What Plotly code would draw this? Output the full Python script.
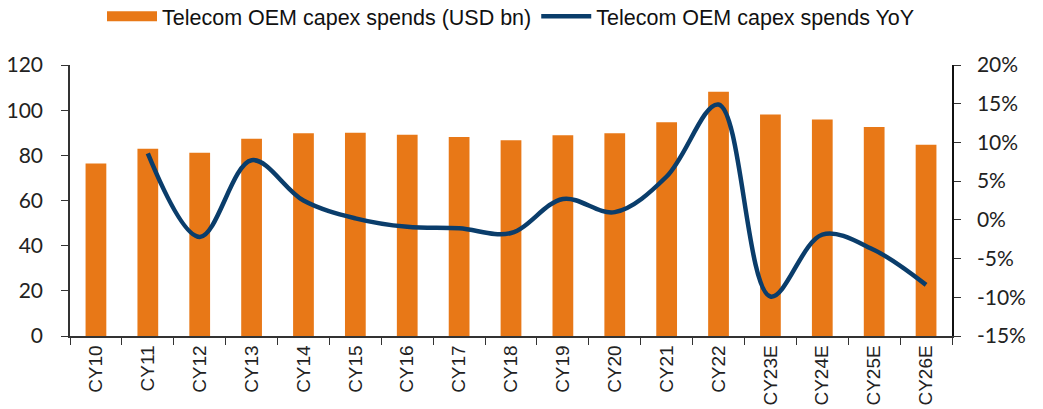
import plotly.graph_objects as go

categories = ["CY10", "CY11", "CY12", "CY13", "CY14", "CY15", "CY16", "CY17", "CY18",
              "CY19", "CY20", "CY21", "CY22", "CY23E", "CY24E", "CY25E", "CY26E"]
capex_usd_bn = [76.4, 82.9, 81.1, 87.3, 89.8, 90.0, 89.1, 88.1, 86.7,
                88.9, 89.8, 94.6, 108.2, 98.1, 95.9, 92.5, 84.7]
capex_yoy_pct = [None, 8.6, -2.2, 7.7, 2.5, 0.2, -0.9, -1.1, -1.7,
                 2.7, 1.0, 5.6, 14.9, -9.9, -1.9, -3.9, -8.4]

left_ticks = [0, 20, 40, 60, 80, 100, 120]
right_ticks = [-15, -10, -5, 0, 5, 10, 15, 20]
right_tick_labels = ["-15%", "-10%", "-5%", "0%", "5%", "10%", "15%", "20%"]

ORANGE = "#E87817"
NAVY = "#0A3D6B"
TICK_FONT = dict(family="Lato, sans-serif", size=21, color="#222222")
BAR_NAME = "Telecom OEM capex spends (USD bn)"
LINE_NAME = "Telecom OEM capex spends YoY"

fig = go.Figure()
fig.add_trace(go.Bar(
    x=categories, y=capex_usd_bn, name=BAR_NAME, showlegend=False,
    marker=dict(color=ORANGE, line=dict(width=0)), yaxis="y",
))
# legend entry with a wide rectangular swatch for the bars
fig.add_trace(go.Scatter(
    x=[None], y=[None], name=BAR_NAME, mode="lines",
    line=dict(color=ORANGE, width=12), yaxis="y", hoverinfo="skip",
))
fig.add_trace(go.Scatter(
    x=categories, y=capex_yoy_pct, name=LINE_NAME,
    mode="lines", line=dict(color=NAVY, width=4.5, shape="spline", smoothing=1.0),
    yaxis="y2", connectgaps=False,
))

fig.update_layout(
    width=1043, height=409,
    margin=dict(l=70, r=91, t=65, b=73, autoexpand=False),
    paper_bgcolor="white", plot_bgcolor="white",
    bargap=0.6,
    showlegend=True,
    legend=dict(orientation="h", x=0.5, xanchor="center", y=1.18, yanchor="middle",
                font=dict(family="Liberation Sans, sans-serif", size=21.5, color="#111111"),
                itemwidth=50, traceorder="normal"),
    xaxis=dict(
        type="category", showline=True, linecolor="#333333", linewidth=1.5,
        ticks="outside", tickson="boundaries", ticklen=7, tickcolor="#333333",
        tickangle=-90, tickfont=dict(family="Liberation Sans, Arial, sans-serif", size=19, color="#222222"),
        showgrid=False, zeroline=False, automargin=False,
    ),
    yaxis=dict(
        range=[0, 120], tickvals=left_ticks, showline=True, linecolor="#333333", linewidth=1.5,
        ticks="outside", ticklen=7, tickcolor="#333333", showgrid=False, zeroline=False,
        tickfont=TICK_FONT, ticklabelstandoff=14, automargin=False,
    ),
    yaxis2=dict(
        range=[-15, 20], tickvals=right_ticks, ticktext=right_tick_labels,
        overlaying="y", side="right",
        showline=True, linecolor="#111111", linewidth=1.5,
        ticks="outside", ticklen=7, tickcolor="#333333", showgrid=False, zeroline=False,
        tickfont=TICK_FONT, ticklabelstandoff=12, automargin=False,
    ),
)

fig.write_html("out.html", config={"displayModeBar": False},
               post_script="document.body.style.margin='0';")
